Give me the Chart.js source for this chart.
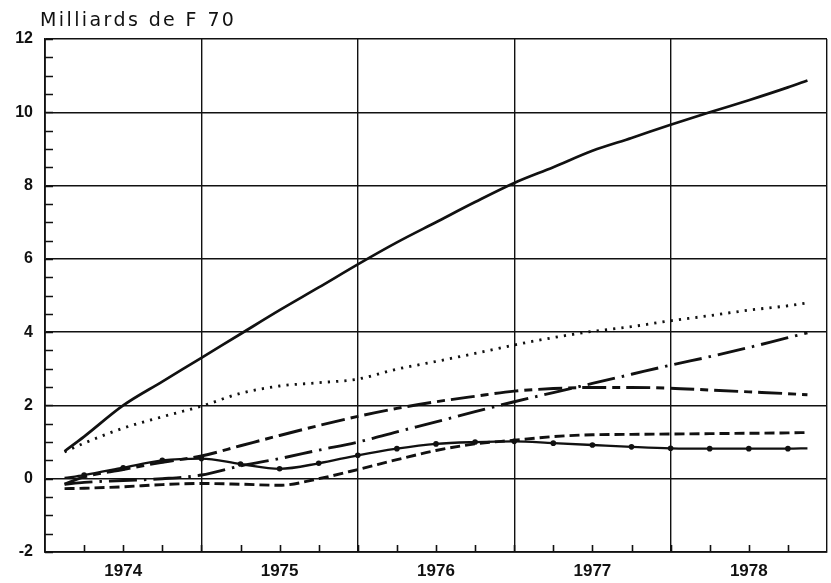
<!DOCTYPE html>
<html>
<head>
<meta charset="utf-8">
<script src="https://cdn.jsdelivr.net/npm/chart.js@4/dist/chart.umd.min.js"></script>
<style>
  html, body { margin: 0; padding: 0; background: #fff; }
  #wrap { width: 831px; height: 583px; }
</style>
</head>
<body>
<div id="wrap"><canvas id="c" width="831" height="583"></canvas></div>
<script>
const TITLE = 'Milliards de F 70';
const YEARS = [1974, 1975, 1976, 1977, 1978];

// quarterly positions (in years)
const quarters = [1973.625, 1973.75, 1974, 1974.25, 1974.5, 1974.75, 1975, 1975.25, 1975.5, 1975.75,
    1976, 1976.25, 1976.5, 1976.75, 1977, 1977.25, 1977.5, 1977.75, 1978, 1978.25, 1978.375];

const total    = [0.75, 1.15, 2.0, 2.65, 3.3, 3.95, 4.6, 5.22, 5.85, 6.45, 7.0, 7.55, 8.07, 8.5, 8.95, 9.3, 9.66, 10.0, 10.33, 10.68, 10.87];
const dotted   = [0.73, 0.97, 1.38, 1.69, 1.98, 2.33, 2.53, 2.62, 2.72, 2.99, 3.2, 3.42, 3.65, 3.85, 4.02, 4.15, 4.31, 4.45, 4.6, 4.72, 4.8];
const dashDash = [-0.15, 0.05, 0.25, 0.45, 0.62, 0.9, 1.18, 1.45, 1.7, 1.92, 2.1, 2.25, 2.39, 2.46, 2.49, 2.49, 2.47, 2.42, 2.37, 2.32, 2.29];
const dashDot  = [-0.15, -0.1, -0.05, 0.0, 0.1, 0.35, 0.55, 0.78, 1.0, 1.28, 1.55, 1.83, 2.1, 2.35, 2.6, 2.85, 3.1, 3.33, 3.58, 3.85, 3.98];
const dashed   = [-0.27, -0.26, -0.22, -0.16, -0.13, -0.15, -0.18, 0.0, 0.25, 0.52, 0.77, 0.95, 1.05, 1.15, 1.2, 1.21, 1.22, 1.23, 1.24, 1.25, 1.26];
const marked   = [0.02, 0.1, 0.3, 0.5, 0.55, 0.4, 0.27, 0.42, 0.64, 0.82, 0.95, 1.0, 1.02, 0.97, 0.92, 0.87, 0.83, 0.82, 0.82, 0.82, 0.83];

const INK = '#111';
const pts = arr => arr.map((v, i) => ({ x: quarters[i], y: v }));

function series(data, dash, width, extra) {
    return Object.assign({
        data: pts(data),
        borderColor: INK,
        backgroundColor: INK,
        borderWidth: width,
        borderDash: dash,
        pointRadius: 0,
        fill: false,
        cubicInterpolationMode: 'monotone'
    }, extra || {});
}

// title + inner minor ticks
const decor = {
    id: 'decor',
    afterDraw(chart) {
        const c = chart.ctx, a = chart.chartArea;
        const xs = chart.scales.x, ys = chart.scales.y;
        c.save();
        c.strokeStyle = INK;
        c.lineWidth = 1.6;
        c.beginPath();
        for (let v = -2; v <= 12; v += 0.5) {
            const y = Math.round(ys.getPixelForValue(v)) + 0.5;
            c.moveTo(a.left, y); c.lineTo(a.left + 8, y);
        }
        for (let v = 1973.75; v < 1978.5; v += 0.25) {
            const x = Math.round(xs.getPixelForValue(v)) + 0.5;
            c.moveTo(x, a.bottom); c.lineTo(x, a.bottom - 7);
        }
        c.stroke();
        c.fillStyle = INK;
        c.font = '19px "DejaVu Sans"';
        c.letterSpacing = '2.4px';
        c.textBaseline = 'alphabetic';
        c.fillText(TITLE, 40, 26);
        c.restore();
    }
};

new Chart(document.getElementById('c'), {
    type: 'line',
    data: {
        datasets: [
            series(total, [], 2.7),
            series(dotted, [2.2, 6.1], 2.8),
            series(dashDash, [24, 6, 8, 6], 2.9),
            series(dashDot, [28, 7, 2.5, 7], 2.9),
            series(dashed, [10, 5], 2.9),
            series(marked, [], 2.3, {
                pointRadius: ctx => (ctx.dataIndex === 0 || ctx.dataIndex === quarters.length - 1) ? 0 : 2.8,
                pointStyle: 'circle',
                pointBorderWidth: 0
            })
        ]
    },
    options: {
        responsive: false,
        animation: false,
        layout: { padding: { top: 39, right: 4, left: 0, bottom: 0 } },
        plugins: { legend: { display: false }, tooltip: { enabled: false } },
        scales: {
            x: {
                type: 'linear',
                min: 1973.5,
                max: 1978.5,
                afterBuildTicks: s => { s.ticks = YEARS.map(v => ({ value: v })); },
                afterFit: s => { s.height = 31; },
                grid: { offset: true, color: INK, lineWidth: 1.4, drawTicks: false },
                border: { color: INK, width: 1.8 },
                ticks: {
                    color: INK,
                    padding: 9,
                    maxRotation: 0,
                    font: { family: '"Liberation Sans", Arial, sans-serif', size: 17, weight: 'bold' },
                    callback: v => String(v)
                }
            },
            y: {
                min: -2,
                max: 12,
                afterFit: s => { s.width = 45; },
                grid: { color: INK, lineWidth: 1.4, drawTicks: false },
                border: { color: INK, width: 1.8 },
                ticks: {
                    stepSize: 2,
                    color: INK,
                    padding: 12,
                    font: { family: '"Liberation Sans", Arial, sans-serif', size: 16, weight: 'bold' }
                }
            }
        }
    },
    plugins: [decor]
});
</script>
</body>
</html>
